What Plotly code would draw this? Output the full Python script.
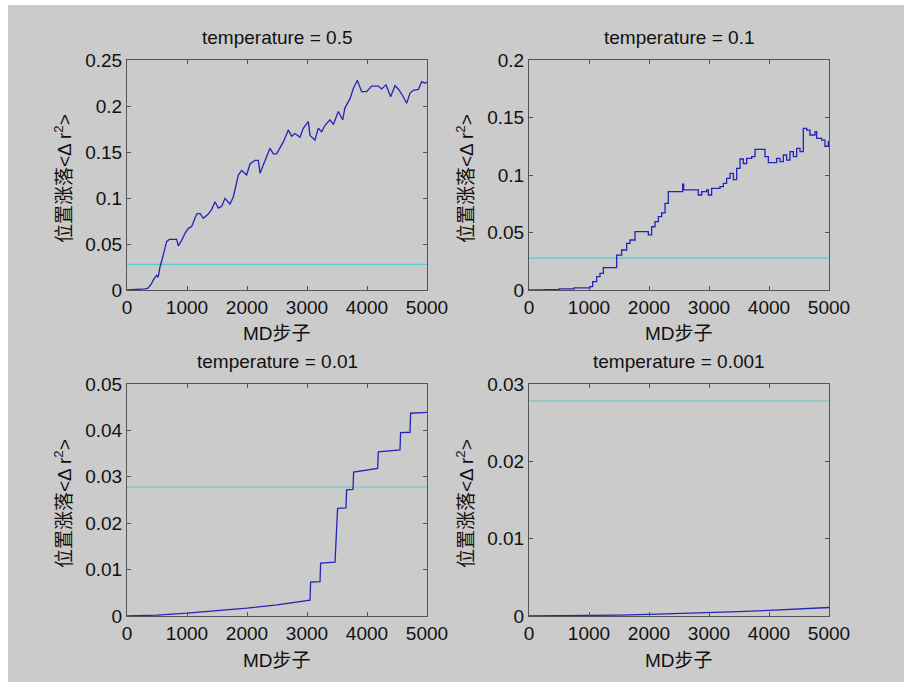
import plotly.graph_objects as go

# ---------------- data ----------------
titles = ["temperature = 0.5", "temperature = 0.1", "temperature = 0.01", "temperature = 0.001"]
x_label = "MD步子"
y_label = "位置涨落&lt;Δ r<sup>2</sup>&gt;"
threshold = 0.0278

x_ticks = [0, 1000, 2000, 3000, 4000, 5000]
x_ticktext = ["0", "1000", "2000", "3000", "4000", "5000"]

t05_steps = [0, 100, 200, 300, 350, 400, 440, 495, 520, 550, 605, 660, 705, 828, 855, 911, 967, 1022, 1078,
             1161, 1217, 1272, 1355, 1411, 1467, 1522, 1578, 1633, 1716, 1772, 1855, 1911, 1994, 2050, 2133,
             2189, 2217, 2272, 2328, 2383, 2439, 2494, 2550, 2605, 2689, 2744, 2800, 2883, 2939, 3022, 3050,
             3133, 3189, 3244, 3300, 3383, 3439, 3522, 3594, 3633, 3717, 3772, 3839, 3911, 3994, 4078, 4189,
             4244, 4317, 4394, 4467, 4522, 4578, 4661, 4717, 4772, 4856, 4911, 4967, 5000]
t05_vals = [0, 0.0003, 0.0008, 0.0012, 0.002, 0.006, 0.011, 0.016, 0.014, 0.025, 0.038, 0.0525, 0.055, 0.055,
            0.048, 0.054, 0.0616, 0.067, 0.069, 0.0826, 0.0833, 0.078, 0.0826, 0.0877, 0.096, 0.089, 0.091,
            0.0996, 0.0935, 0.101, 0.125, 0.130, 0.125, 0.137, 0.141, 0.141, 0.127, 0.135, 0.145, 0.154, 0.148,
            0.148, 0.154, 0.161, 0.174, 0.167, 0.170, 0.166, 0.176, 0.183, 0.168, 0.163, 0.176, 0.172, 0.179,
            0.185, 0.180, 0.194, 0.185, 0.198, 0.208, 0.219, 0.228, 0.2156, 0.2156, 0.2217, 0.2217, 0.2185,
            0.223, 0.210, 0.222, 0.2185, 0.213, 0.203, 0.214, 0.217, 0.218, 0.2264, 0.2246, 0.226]

t01_steps = [0, 250, 500, 750, 1017, 1061, 1128, 1183, 1239, 1406, 1461, 1544, 1628, 1683, 1767, 1961, 1989,
             2044, 2100, 2156, 2211, 2267, 2322, 2544, 2561, 2578, 2794, 2822, 2878, 2961, 2989, 3044, 3128,
             3183, 3239, 3294, 3350, 3406, 3461, 3517, 3572, 3628, 3711, 3767, 3917, 3933, 3989, 4100, 4128,
             4183, 4239, 4294, 4350, 4406, 4461, 4517, 4572, 4628, 4683, 4767, 4794, 4878, 4933, 4989, 5000]
t01_vals = [0, 0.0004, 0.001, 0.0018, 0.0029, 0.0072, 0.0116, 0.0145, 0.0194, 0.0194, 0.0304, 0.0348, 0.0406,
            0.0435, 0.0507, 0.0507, 0.048, 0.055, 0.0594, 0.0638, 0.067, 0.0754, 0.0855, 0.0855, 0.092, 0.087,
            0.087, 0.0826, 0.0855, 0.087, 0.0826, 0.0884, 0.0884, 0.0899, 0.0928, 0.0971, 0.1014, 0.096, 0.1058,
            0.1139, 0.110, 0.1145, 0.1159, 0.1223, 0.1223, 0.116, 0.1107, 0.1107, 0.1145, 0.1116, 0.1174, 0.113,
            0.1203, 0.1159, 0.1232, 0.1203, 0.1406, 0.1391, 0.1348, 0.1377, 0.1319, 0.1304, 0.125, 0.129, 0.129]

t001_steps = [0, 500, 1000, 1500, 2000, 2500, 3000, 3050, 3060, 3217, 3227, 3467, 3510, 3650, 3660, 3767, 3777,
              4178, 4188, 4550, 4560, 4717, 4727, 5000]
t001_vals = [0, 0.0002, 0.0006, 0.0011, 0.0017, 0.0024, 0.0032, 0.0034, 0.0073, 0.0074, 0.0114, 0.0116, 0.0232,
             0.0233, 0.0272, 0.0273, 0.0310, 0.0318, 0.0354, 0.0358, 0.0395, 0.0396, 0.0437, 0.0439]

t0001_steps = [0, 500, 1000, 1500, 2000, 2500, 3000, 3500, 4000, 4500, 5000]
t0001_vals = [0, 0.00002, 0.00006, 0.00012, 0.0002, 0.0003, 0.00042, 0.00056, 0.00072, 0.0009, 0.0011]

y_ticks = [[0, 0.05, 0.1, 0.15, 0.2, 0.25], [0, 0.05, 0.1, 0.15, 0.2],
           [0, 0.01, 0.02, 0.03, 0.04, 0.05], [0, 0.01, 0.02, 0.03]]
y_ticktext = [["0", "0.05", "0.1", "0.15", "0.2", "0.25"], ["0", "0.05", "0.1", "0.15", "0.2"],
              ["0", "0.01", "0.02", "0.03", "0.04", "0.05"], ["0", "0.01", "0.02", "0.03"]]
y_ranges = [[0, 0.25], [0, 0.2], [0, 0.05], [0, 0.03]]

series = [(t05_steps, t05_vals), (t01_steps, t01_vals), (t001_steps, t001_vals), (t0001_steps, t0001_vals)]
shapes = ["linear", "hv", "linear", "linear"]

# ---------------- layout ----------------
W, H = 911, 687
FONT = "Liberation Sans, Arial, Helvetica, Noto Sans CJK SC, sans-serif"
FS = 19
BLUE = "#2424b8"
CYAN = "#5ccaca"
AXC = "#555555"

# plot-area pixel boxes (left, right, top, bottom)
boxes = [(127, 427, 60, 290), (529, 829, 60, 290), (127, 427, 384, 616), (529, 829, 384, 616)]

fig = go.Figure()
for i, ((xs, ys), box) in enumerate(zip(series, boxes)):
    n = "" if i == 0 else str(i + 1)
    fig.add_trace(go.Scatter(x=[0, 5000], y=[threshold, threshold], mode="lines",
                             line=dict(color=CYAN, width=1.2), xaxis="x" + n, yaxis="y" + n,
                             showlegend=False, hoverinfo="skip"))
    fig.add_trace(go.Scatter(x=xs, y=ys, mode="lines", line=dict(color=BLUE, width=1.3, shape=shapes[i]),
                             xaxis="x" + n, yaxis="y" + n, showlegend=False))
    l, r, t, b = box
    common = dict(showline=True, mirror="ticks", linecolor=AXC, linewidth=1, ticks="inside",
                  ticklen=4, tickcolor=AXC, tickwidth=1, showgrid=False, zeroline=False,
                  automargin=False, tickfont=dict(family=FONT, size=FS, color="#111111"))
    fig.update_layout(**{
        "xaxis" + n: dict(domain=[l / W, r / W], anchor="y" + n, range=[0, 5000],
                          tickvals=x_ticks, ticktext=x_ticktext, **common),
        "yaxis" + n: dict(domain=[1 - b / H, 1 - t / H], anchor="x" + n, range=y_ranges[i],
                          tickvals=y_ticks[i], ticktext=y_ticktext[i], **common),
    })
    cx = (l + r) / 2
    fig.add_annotation(x=cx / W, y=1 - (t - 23) / H, xref="paper", yref="paper", text=titles[i],
                       showarrow=False, xanchor="center", yanchor="middle",
                       font=dict(family=FONT, size=FS, color="#111111"))
    fig.add_annotation(x=cx / W, y=1 - (b + 44) / H, xref="paper", yref="paper", text=x_label,
                       showarrow=False, xanchor="center", yanchor="middle",
                       font=dict(family=FONT, size=FS, color="#111111"))
    fig.add_annotation(x=(l - 64) / W, y=1 - ((t + b) / 2 + 4) / H, xref="paper", yref="paper",
                       text=y_label, textangle=-90, showarrow=False, xanchor="center", yanchor="middle",
                       font=dict(family=FONT, size=FS, color="#111111"))

fig.add_shape(type="rect", xref="paper", yref="paper", x0=8 / W, x1=904 / W, y0=1 - 682 / H, y1=1 - 5 / H,
              fillcolor="#cbcbcb", line=dict(width=0), layer="below")

fig.update_layout(width=W, height=H, margin=dict(l=0, r=0, t=0, b=0, autoexpand=False),
                  paper_bgcolor="white", plot_bgcolor="white", showlegend=False,
                  font=dict(family=FONT, size=FS))

fig.write_html("out.html", config={"displayModeBar": False},
               post_script="document.body.style.margin='0';document.body.style.overflow='hidden';")
